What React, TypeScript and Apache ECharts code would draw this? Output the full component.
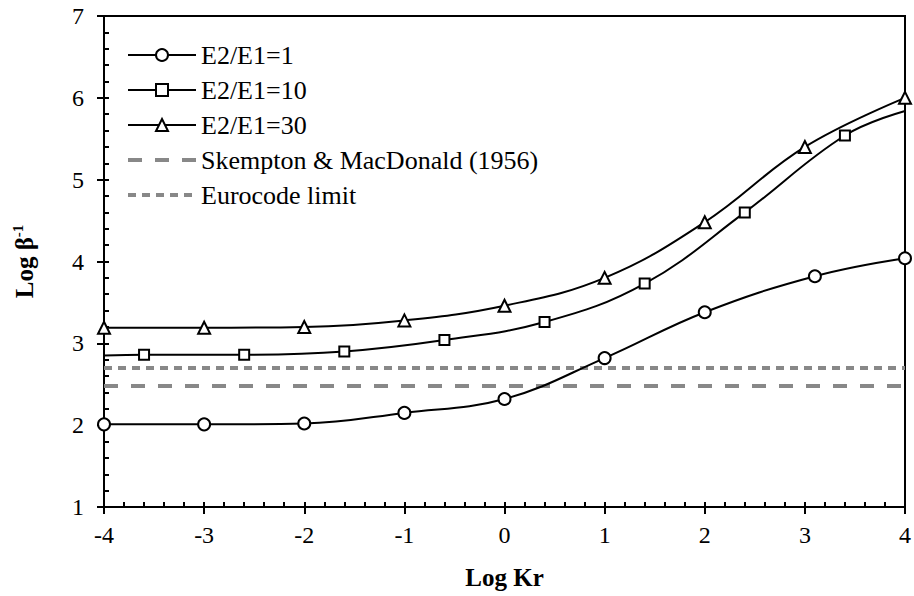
import React, { useEffect, useRef } from "react";
import * as echarts from "echarts";

// Log Kr values and Log β⁻¹ readings for each stiffness ratio
const ratio1X = [-4, -3, -2, -1, 0, 1, 2, 3.1, 4];
const ratio1Y = [2.01, 2.01, 2.02, 2.15, 2.32, 2.82, 3.38, 3.82, 4.04];

const ratio10X = [-3.6, -2.6, -1.6, -0.6, 0.4, 1.4, 2.4, 3.4];
const ratio10Y = [2.86, 2.86, 2.9, 3.04, 3.26, 3.73, 4.6, 5.54];
// ends of the fitted curve for E2/E1=10 (no marker there)
const ratio10CurveStart = [-4, 2.85];
const ratio10CurveEnd = [4, 5.84];

const ratio30X = [-4, -3, -2, -1, 0, 1, 2, 3, 4];
const ratio30Y = [3.19, 3.19, 3.2, 3.28, 3.46, 3.8, 4.48, 5.4, 6.0];

// limiting angular distortion levels, as Log β⁻¹
const skemptonLimit = 2.48;
const eurocodeLimit = 2.7;

const xRange = [-4, 4];
const yRange = [1, 7];
const majorStep = 1;
const minorStep = 0.2;

const FONT = "'Liberation Serif', 'Times New Roman', serif";

const SKEMPTON_DASH = [14, 13];
const EUROCODE_DASH = [8, 6];

export default function App() {
  const ref = useRef<HTMLDivElement>(null);

  useEffect(() => {
    if (!ref.current) return;
    const chart = echarts.init(ref.current, undefined, { renderer: "svg" });

    const markerSeries = (
      name: string,
      symbol: string,
      size: number,
      points: any[]
    ) => ({
      name,
      type: "line",
      smooth: 0.4,
      symbol,
      symbolSize: size,
      showAllSymbol: true,
      color: "#000",
      lineStyle: { color: "#000", width: 2 },
      itemStyle: { color: "#000", borderColor: "#000", borderWidth: 1.6 },
      data: points,
      z: 3,
    });

    const refLine = (name: string, y: number, dash: number[]) => ({
      name,
      type: "line",
      symbol: "none",
      color: "#888888",
      lineStyle: { color: "#888888", width: 4, type: dash },
      data: [
        [xRange[0], y],
        [xRange[1], y],
      ],
      z: 2,
    });

    const series10 = [
      { value: ratio10CurveStart, symbol: "none" },
      ...ratio10X.map((x, i) => [x, ratio10Y[i]]),
      { value: ratio10CurveEnd, symbol: "none" },
    ];

    const tickLabel = { fontFamily: FONT, fontSize: 24, color: "#000" };
    const tickLine = { color: "#000", width: 2 };

    // each axis is drawn twice: the labelled one carries the outward part of the
    // major ticks, the twin carries every 0.2 tick pointing into the plot
    const innerTicks = (range: number[], position: string) => ({
      type: "value",
      position,
      min: range[0],
      max: range[1],
      interval: minorStep,
      axisLine: { show: false, onZero: false },
      axisTick: { inside: true, length: 5, lineStyle: tickLine },
      axisLabel: { show: false },
      splitLine: { show: false },
    });

    chart.setOption({
      animation: false,
      backgroundColor: "#fff",
      grid: {
        left: 104,
        right: 9,
        top: 16,
        bottom: 89,
        show: true,
        borderColor: "#000",
        borderWidth: 2,
        backgroundColor: "transparent",
      },
      legend: {
        orient: "vertical",
        left: 126,
        top: 42,
        padding: 0,
        itemGap: 9,
        itemWidth: 68,
        itemHeight: 15,
        textStyle: { fontFamily: FONT, fontSize: 26, color: "#000" },
        data: [
          "E2/E1=1",
          "E2/E1=10",
          "E2/E1=30",
          {
            name: "Skempton & MacDonald (1956)",
            itemStyle: { opacity: 0 },
            lineStyle: { width: 4, type: SKEMPTON_DASH, color: "#888888" },
          },
          {
            name: "Eurocode limit",
            itemStyle: { opacity: 0 },
            lineStyle: { width: 4, type: EUROCODE_DASH, color: "#888888" },
          },
        ],
      },
      xAxis: [
        {
          type: "value",
          min: xRange[0],
          max: xRange[1],
          interval: majorStep,
          name: "Log Kr",
          nameLocation: "middle",
          nameGap: 58,
          nameTextStyle: { fontFamily: FONT, fontSize: 25, fontWeight: "bold", color: "#000" },
          axisLine: { onZero: false, lineStyle: { color: "#000", width: 2 } },
          axisTick: { inside: false, length: 7, lineStyle: tickLine },
          axisLabel: { ...tickLabel, margin: 16 },
          splitLine: { show: false },
        },
        innerTicks(xRange, "bottom"),
      ],
      yAxis: [
        {
          type: "value",
          min: yRange[0],
          max: yRange[1],
          interval: majorStep,
          name: "{a|Log β}{b|-1}",
          nameLocation: "middle",
          nameGap: 66,
          nameTextStyle: {
            rich: {
              a: { fontFamily: FONT, fontSize: 25, fontWeight: "bold", color: "#000", lineHeight: 28 },
              b: {
                fontFamily: FONT,
                fontSize: 15,
                fontWeight: "bold",
                color: "#000",
                verticalAlign: "top",
                lineHeight: 28,
                padding: [0, 0, 10, 0],
              },
            },
          },
          axisLine: { onZero: false, lineStyle: { color: "#000", width: 2 } },
          axisTick: { inside: false, length: 7, lineStyle: tickLine },
          axisLabel: { ...tickLabel, margin: 20 },
          splitLine: { show: false },
        },
        innerTicks(yRange, "left"),
      ],
      series: [
        refLine("Skempton & MacDonald (1956)", skemptonLimit, SKEMPTON_DASH),
        refLine("Eurocode limit", eurocodeLimit, EUROCODE_DASH),
        markerSeries("E2/E1=1", "emptyCircle", 12, ratio1X.map((x, i) => [x, ratio1Y[i]])),
        markerSeries("E2/E1=10", "emptyRect", 10, series10),
        markerSeries("E2/E1=30", "emptyTriangle", 12, ratio30X.map((x, i) => [x, ratio30Y[i]])),
      ],
    });

    return () => chart.dispose();
  }, []);

  return <div ref={ref} style={{ width: 914, height: 596, position: "absolute", left: 0, top: 0 }} />;
}
